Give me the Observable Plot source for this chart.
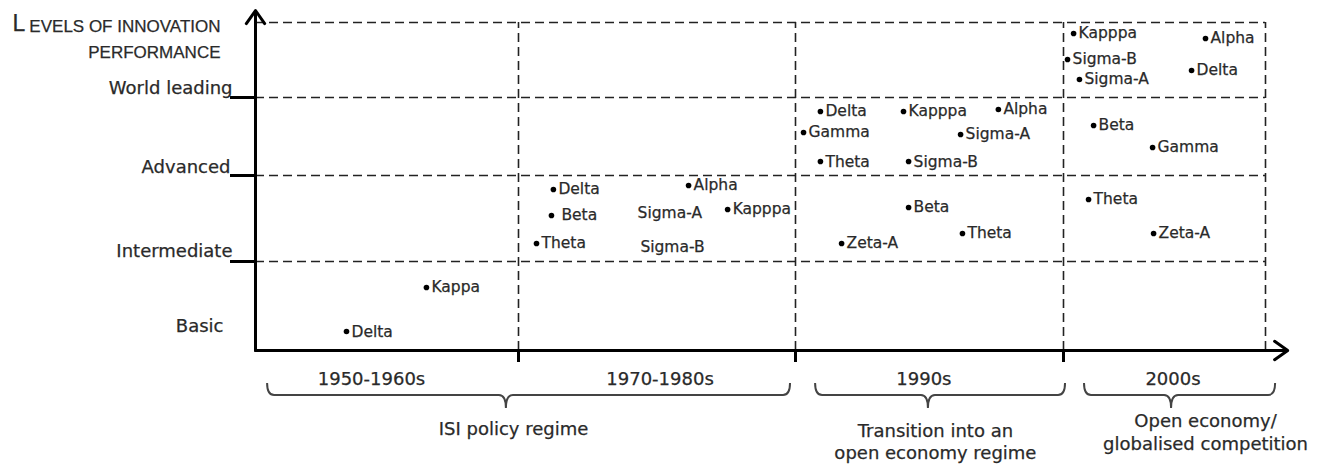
<!DOCTYPE html>
<html><head><meta charset="utf-8">
<script src="https://cdn.jsdelivr.net/npm/d3@7"></script>
<script src="https://cdn.jsdelivr.net/npm/@observablehq/plot@0.6"></script>
<style>
html,body{margin:0;padding:0;background:#fff;}
#chart svg{display:block;background:#fff;}
#chart svg text{paint-order:normal;}
</style></head><body><div id="chart"></div>
<script>
// ---- data ----
const levels = ["Basic", "Intermediate", "Advanced", "World leading"];
const levelTicks = [1, 2, 3];
const eras = ["1950-1960s", "1970-1980s", "1990s", "2000s"];
const eraCenters = [0.441, 1.511, 2.479, 3.542];
const titleLines = ["EVELS OF INNOVATION", "PERFORMANCE"];
const regimes = ["ISI policy regime", "Transition into an\nopen economy regime", "Open economy/\nglobalised competition"];
// firm labels: x = era index + position within era, y = level index + position within level band
const firmNames = [
  "Delta", "Kappa",
  "Delta", "\u00a0Beta", "Theta", "Alpha", "Sigma-A", "Kapppa", "Sigma-B",
  "Delta", "Kapppa", "Alpha", "Gamma", "Sigma-A", "Theta", "Sigma-B", "Beta", "Theta", "Zeta-A",
  "Kapppa", "Alpha", "Sigma-B", "Delta", "Sigma-A", "Beta", "Gamma", "Theta", "Zeta-A"
];
const firmX = [
  0.346, 0.650,
  1.126, 1.119, 1.065, 1.614, 1.430, 1.755, 1.440,
  2.093, 2.403, 2.757, 2.030, 2.616, 2.093, 2.422, 2.422, 2.623, 2.172,
  3.050, 3.703, 3.020, 3.634, 3.079, 3.149, 3.441, 3.124, 3.446
];
const firmY = [
  0.213, 0.708,
  1.837, 1.535, 1.209, 1.884, 1.558, 1.605, 1.174,
  2.821, 2.821, 2.846, 2.551, 2.526, 2.179, 2.179, 1.628, 1.326, 1.209,
  3.853, 3.787, 3.507, 3.360, 3.240, 2.641, 2.359, 1.721, 1.326
];
const firmDot = [
  true, true,
  true, true, true, true, false, true, false,
  true, true, true, true, true, true, true, true, true, true,
  true, true, true, true, true, true, true, true, true
];

const firms = firmNames.map((name, i) => ({name, x: firmX[i], y: firmY[i], dot: firmDot[i]}));
const braceSpec = [
  {from: 0.046, to: 1.982, cusp: 0.954},
  {from: 2.075, to: 3.01, cusp: 2.496},
  {from: 3.104, to: 4.05, cusp: 3.535}
];

const TXT = "#2a2a2a";
const SANS = "DejaVu Sans";
const ink = {fill: TXT, stroke: TXT, strokeWidth: 0.25};

function braces(index, scales) {
  const g = d3.create("svg:g").attr("fill", "none").attr("stroke", "#444").attr("stroke-width", 2);
  const y0 = scales.y(0);
  const top = y0 + 33, mid = y0 + 45, bot = y0 + 58, r = 7;
  for (const b of braceSpec) {
    const x1 = scales.x(b.from), x2 = scales.x(b.to), cx = scales.x(b.cusp);
    g.append("path").attr("d",
      `M${x1},${top} Q${x1},${mid} ${x1 + r},${mid} L${cx - r},${mid} Q${cx},${mid} ${cx},${bot} ` +
      `M${cx},${bot} Q${cx},${mid} ${cx + r},${mid} L${x2 - r},${mid} Q${x2},${mid} ${x2},${top}`);
  }
  return g.node();
}

const dash = {stroke: "#222", strokeWidth: 1.6, strokeDasharray: "9,5"};
const levelLabel = (i, dx, dy) =>
  Plot.text([levels[i]], {x: () => 0, y: () => i, text: d => d, textAnchor: "end", dx, dy,
    fontSize: 18, lineAnchor: "middle", ...ink});

const chart = Plot.plot({
  width: 1326,
  height: 466,
  margin: 0,
  x: {type: "linear", domain: [0, 1, 2, 3, 4], range: [255, 518, 795, 1063, 1265], axis: null},
  y: {type: "linear", domain: [0, 1, 2, 3, 4], range: [350, 261, 175, 97, 22], axis: null},
  style: {fontFamily: SANS, background: "#fff"},
  marks: [
    // dashed grid
    Plot.ruleY([1, 2, 3, 4], {x1: 0, x2: 4, ...dash}),
    Plot.ruleX([1, 2, 3, 4], {y1: 0, y2: 4, ...dash}),
    // tick marks on axes
    Plot.ruleY(levelTicks, {x1: -0.095, x2: 0, stroke: "#000", strokeWidth: 3}),
    Plot.ruleX([1, 2, 3], {y1: 0, y2: -0.135, stroke: "#000", strokeWidth: 3}),
    // axes with arrows
    Plot.arrow([{x1: 0, y1: 0, x2: 0, y2: 4.16}, {x1: 0, y1: 0, x2: 4.11, y2: 0}],
      {x1: "x1", y1: "y1", x2: "x2", y2: "y2", stroke: "#000", strokeWidth: 3, headLength: 8, headAngle: 70}),
    // level labels
    levelLabel(0, -32, -24),
    levelLabel(1, -23, -10),
    levelLabel(2, -25, -8),
    levelLabel(3, -23, -9),
    // title
    Plot.text(["L"], {frameAnchor: "top-left", dx: 12, dy: 23.6, text: d => d, textAnchor: "start",
      lineAnchor: "middle", fontSize: 23, fontFamily: "Liberation Sans", ...ink}),
    Plot.text([titleLines[0]], {frameAnchor: "top-left", dx: 220, dy: 25.6, text: d => d, textAnchor: "end",
      lineAnchor: "middle", fontSize: 17, fontFamily: "Liberation Sans", ...ink}),
    Plot.text([titleLines[1]], {frameAnchor: "top-left", dx: 220, dy: 51.6, text: d => d, textAnchor: "end",
      lineAnchor: "middle", fontSize: 17, fontFamily: "Liberation Sans", ...ink}),
    // firm markers
    Plot.dot(firms.filter(d => d.dot), {x: "x", y: "y", r: 2.8, fill: "#000", stroke: null}),
    Plot.text(firms.filter(d => d.dot), {x: "x", y: "y", text: "name", dx: 5, textAnchor: "start",
      fontSize: 15.5, lineAnchor: "middle", ...ink}),
    Plot.text(firms.filter(d => !d.dot), {x: "x", y: "y", text: "name", dx: 0, textAnchor: "start",
      fontSize: 15.5, lineAnchor: "middle", ...ink}),
    // era labels
    Plot.text(eras, {x: eraCenters, y: () => 0, text: d => d, dy: 29, fontSize: 18, lineAnchor: "middle", ...ink}),
    // braces
    braces,
    // regime labels
    Plot.text([regimes[0]], {x: () => 0.981, y: () => 0, text: d => d, dy: 79, fontSize: 18, lineAnchor: "middle", ...ink}),
    Plot.text([regimes[1]], {x: () => 2.522, y: () => 0, text: d => d, dy: 71, fontSize: 18, lineAnchor: "top", lineHeight: 1.22, ...ink}),
    Plot.text([regimes[2]], {x: () => 3.703, y: () => 0, text: d => d, dy: 59, fontSize: 18, lineAnchor: "top", lineHeight: 1.33, ...ink})
  ]
});
document.getElementById("chart").appendChild(chart);
</script>
</body></html>
